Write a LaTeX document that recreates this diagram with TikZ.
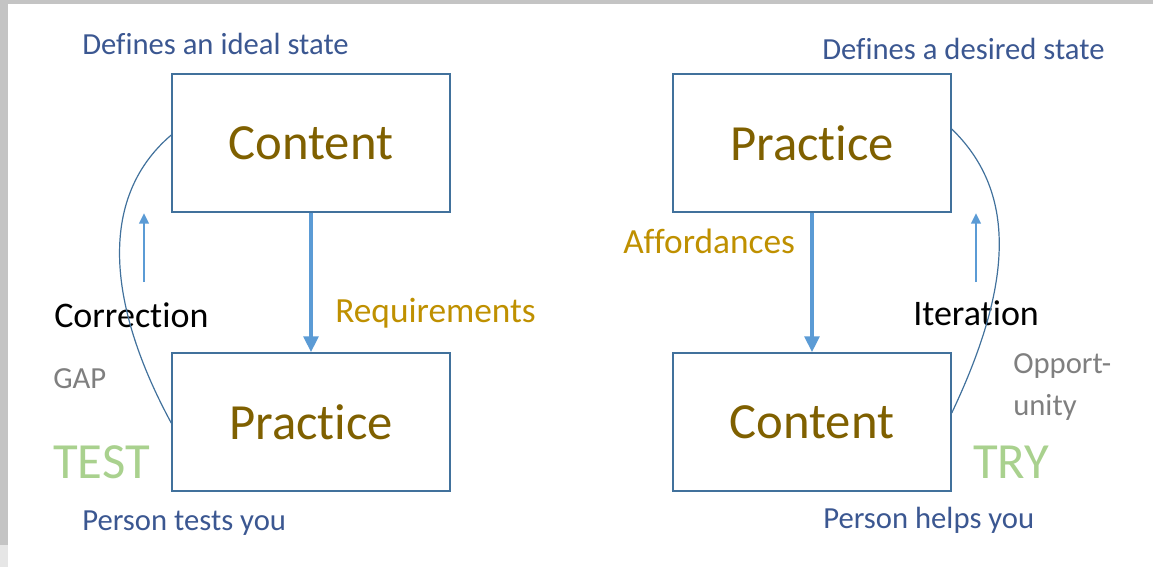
\documentclass[tikz,border=0pt]{standalone}
\usepackage{fontspec}
\setmainfont{Carlito}[Ligatures=NoCommon]
\usetikzlibrary{arrows.meta,calc}
\definecolor{boxline}{HTML}{41719C}
\definecolor{boxtext}{HTML}{7F6000}
\definecolor{desctext}{HTML}{3B5791}
\definecolor{goldtext}{HTML}{BF9000}
\definecolor{graytext}{HTML}{7F7F7F}
\definecolor{greentext}{HTML}{A9D18E}
\definecolor{arrowblue}{HTML}{5B9BD5}
\definecolor{edgegray}{HTML}{C4C4C4}
\definecolor{edgelight}{HTML}{E6E6E6}
\tikzset{
  mainbox/.style={draw=boxline, line width=1.1pt, minimum width=208.5pt, minimum height=103.5pt,
    inner sep=0pt, text=boxtext, font=\fontsize{38}{44}\selectfont},
  desc/.style={anchor=base west, inner sep=0pt, text=desctext, font=\fontsize{23}{27}\selectfont},
  flowlabel/.style={anchor=base west, inner sep=0pt, text=goldtext, font=\fontsize{26.5}{31}\selectfont},
  looplabel/.style={anchor=base west, inner sep=0pt, text=black, font=\fontsize{27}{31}\selectfont},
  graylabel/.style={anchor=base west, inner sep=0pt, text=graytext, font=\fontsize{23}{31}\selectfont},
  modelabel/.style={anchor=base west, inner sep=0pt, text=greentext, font=\fontsize{38}{44}\selectfont},
  bigarrow/.style={draw=arrowblue, line width=2.8pt, -{Triangle[length=12pt,width=11pt]}},
  smallarrow/.style={draw=arrowblue, line width=2pt, -{Triangle[length=8pt,width=7pt]}},
  loopcurve/.style={draw=boxline, line width=0.9pt}
}
\begin{document}
\begin{tikzpicture}[x=0.75pt,y=-0.75pt]
\useasboundingbox (0,0) rectangle (1153,567);
% screenshot edges
\fill[edgegray] (0,0) rectangle (1153,4.5);
\fill[edgegray] (0,0) rectangle (8,545);
\fill[edgelight] (0,545) rectangle (8,567);

% left diagram
\node[mainbox] (lc) at (311,143) {Content};
\node[mainbox] (lp) at (311,422) {Practice};
\node[desc] (ldef) at (82,55) {Defines an ideal state};
\node[desc] (lper) at (82,530) {Person tests you};
\node[flowlabel] (req) at (335,322) {Requirements};
\node[looplabel] (corr) at (54,327) {Correction};
\node[graylabel] (gap) at (53,388) {GAP};
\node[modelabel] (test) at (53,478) {TEST};
\draw[bigarrow] (lc.south) -- (lp.north);
\coordinate (lsa) at (144,282);
\coordinate (lsb) at (144,213);
\draw[smallarrow] (lsa) -- (lsb);
\draw[loopcurve] ($(lc.west)+(0,-8)$) .. controls (95,200) and (110,310) .. ($(lp.west)+(0,1)$);

% right diagram
\node[mainbox] (rp) at (812,143) {Practice};
\node[mainbox] (rc) at (812,422) {Content};
\node[desc] (rdef) at (822,60) {Defines a desired state};
\node[desc] (rper) at (823,528) {Person helps you};
\node[flowlabel] (aff) at (623,253) {Affordances};
\node[looplabel] (iter) at (913,325) {Iteration};
\node[graylabel, align=left] (opp) at (1013,415) {Opport-\\unity};
\node[modelabel] (try) at (973,478) {TRY};
\draw[bigarrow] (rp.south) -- (rc.north);
\coordinate (rsa) at (976,282);
\coordinate (rsb) at (976,213);
\draw[smallarrow] (rsa) -- (rsb);
\draw[loopcurve] ($(rp.east)+(0,-14)$) .. controls (1020,195) and (1010,290) .. ($(rc.east)+(0,-9)$);
\end{tikzpicture}
\end{document}
